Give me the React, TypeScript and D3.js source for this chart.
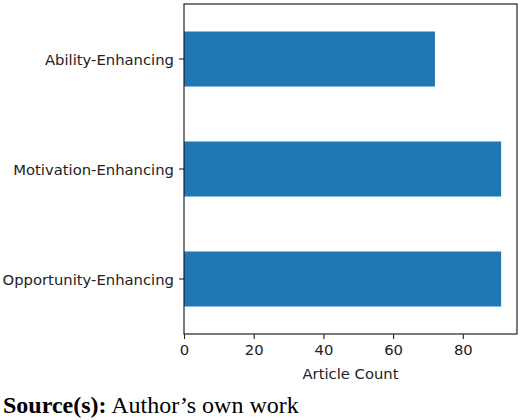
import { useEffect, useRef } from "react";
import * as d3 from "d3";

const categories = ["Ability-Enhancing", "Motivation-Enhancing", "Opportunity-Enhancing"];
const counts = [72, 91, 91];
const xTicks = [0, 20, 40, 60, 80];

const W = 520;
const H = 420;
const PLOT = { left: 184, right: 517, top: 4, bottom: 334 };
const TICK_FONT = "'DejaVu Sans', sans-serif";
const FS = 14.8;

export default function App() {
  const svgRef = useRef<SVGSVGElement>(null);

  useEffect(() => {
    if (!svgRef.current) return;
    const svg = d3.select(svgRef.current);
    svg.selectAll("*").remove();

    const x = d3
      .scaleLinear()
      .domain([0, (d3.max(counts) || 1) * 1.05])
      .range([PLOT.left, PLOT.right]);

    const y = d3
      .scaleBand()
      .domain(categories)
      .range([PLOT.top, PLOT.bottom])
      .paddingInner(0.5)
      .paddingOuter(0.25);

    // bars
    svg
      .append("g")
      .selectAll("rect")
      .data(categories)
      .join("rect")
      .attr("x", x(0))
      .attr("y", (d) => y(d) || 0)
      .attr("width", (_, i) => x(counts[i]) - x(0))
      .attr("height", y.bandwidth())
      .attr("fill", "#1f77b4");

    // frame
    svg
      .append("rect")
      .attr("x", PLOT.left)
      .attr("y", PLOT.top)
      .attr("width", PLOT.right - PLOT.left)
      .attr("height", PLOT.bottom - PLOT.top)
      .attr("fill", "none")
      .attr("stroke", "#222")
      .attr("stroke-width", 1.2);

    // x axis
    const xAxis = svg
      .append("g")
      .attr("transform", `translate(0,${PLOT.bottom})`)
      .call(d3.axisBottom(x).tickValues(xTicks).tickSize(5).tickPadding(5));
    xAxis.select(".domain").remove();
    xAxis.selectAll("line").attr("stroke", "#222").attr("stroke-width", 1.1);
    xAxis
      .selectAll("text")
      .attr("font-family", TICK_FONT)
      .attr("font-size", FS)
      .attr("fill", "#222");

    // y axis
    const yAxis = svg
      .append("g")
      .attr("transform", `translate(${PLOT.left},0)`)
      .call(d3.axisLeft(y).tickSize(5).tickPadding(5));
    yAxis.select(".domain").remove();
    yAxis.selectAll("line").attr("stroke", "#222").attr("stroke-width", 1.1);
    yAxis
      .selectAll("text")
      .attr("font-family", TICK_FONT)
      .attr("font-size", FS)
      .attr("fill", "#222")
      .attr("dy", "0.4em");

    // x label
    svg
      .append("text")
      .attr("x", (PLOT.left + PLOT.right) / 2)
      .attr("y", 379)
      .attr("text-anchor", "middle")
      .attr("font-family", TICK_FONT)
      .attr("font-size", FS)
      .attr("fill", "#222")
      .text("Article Count");

    // source caption
    const cap = svg
      .append("text")
      .attr("x", 3)
      .attr("y", 413)
      .attr("font-family", "'Liberation Serif', 'Times New Roman', serif")
      .attr("font-size", 24)
      .attr("fill", "#000");
    cap.append("tspan").attr("font-weight", "bold").text("Source(s):");
    cap.append("tspan").text(" Author\u2019s own work");
  }, []);

  return (
    <svg
      ref={svgRef}
      width={W}
      height={H}
      style={{ position: "absolute", left: 0, top: 0, background: "#fff" }}
    />
  );
}
